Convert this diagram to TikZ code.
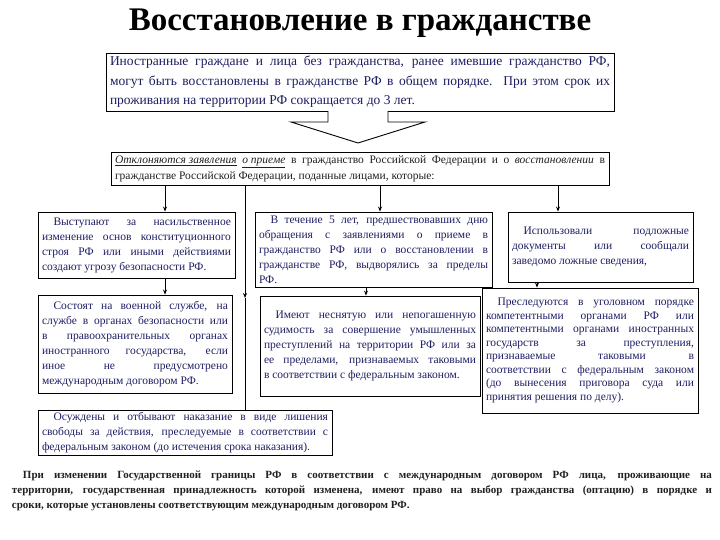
\documentclass[tikz,border=0pt]{standalone}
\usepackage{fontspec}
\setmainfont{Liberation Serif}
\usepackage{tikz}
\usetikzlibrary{arrows.meta, calc, positioning}
\tikzset{>=stealth}
\definecolor{mynavy}{HTML}{1E1E64}
\definecolor{myink}{HTML}{202020}
\hbadness=10000
\hfuzz=2pt

\begin{document}
\begin{tikzpicture}[x=1pt, y=-1pt,
		box/.style={draw, line width=0.9pt, fill=white, inner xsep=4pt, inner ysep=2pt, text=mynavy, align=justify, font=\fontsize{11.5}{15}\selectfont},
		arr/.style={->, line width=0.8pt, >={Stealth[length=5pt, width=4pt]}}]
			\useasboundingbox (0,0) rectangle (720,540);
			\node[font=\bfseries\fontsize{33}{35}\selectfont] (title) at (360,23) {Восстановление в гражданстве};
			% upper boxes
			\node[box, text width=500pt, minimum height=58pt, font=\fontsize{13.5}{19.5}\selectfont] (return) at (360,82) {Иностранные граждане и лица без гражданства, ранее имевшие гражданство РФ, \linebreak могут быть восстановлены в гражданстве РФ в общем порядке. При этом срок их \linebreak проживания на территории РФ сокращается до 3 лет.};
			\draw [line width=0.9pt, fill=white] (328,111) -- (328,122) -- (291,122) -- (358,143) -- (425,122) -- (388,122) -- (388,111);
			\node[box, text width=490pt, minimum height=33pt, text=myink, font=\fontsize{11.5}{16}\selectfont] (reject) at (360,168.5) {\underline{\textit{Отклоняются заявления}} \underline{\textit{о приеме}} в гражданство Российской Федерации и о \textit{восстановлении} в \linebreak гражданстве Российской Федерации, поданные лицами, которые:};
			% left column
			\node[box, text width=189pt, minimum height=66pt] (threat) at (136.5,245) {\hspace*{1em}Выступают за насильственное \linebreak изменение основ конституционного \linebreak строя РФ или иными действиями \linebreak создают угрозу безопасности РФ.};
			\node[box, text width=186pt, minimum height=98pt] (service) at (135,344) {\hspace*{1em}Состоят на военной службе, на \linebreak службе в органах безопасности или \linebreak в правоохранительных органах \linebreak иностранного государства, если \linebreak иное не предусмотрено \linebreak международным договором РФ.};
			\node[box, text width=286pt, minimum height=44pt] (prison) at (185,433) {\hspace*{1em}Осуждены и отбывают наказание в виде лишения \linebreak свободы за действия, преследуемые в соответствии с \linebreak федеральным законом (до истечения срока наказания).};
			% middle column
			\node[box, text width=229pt, minimum height=75pt] (expel) at (373.5,249.5) {\hspace*{1em}В течение 5 лет, предшествовавших дню \linebreak обращения с заявлениями о приеме в \linebreak гражданство РФ или о восстановлении в \linebreak гражданстве РФ, выдворялись за пределы \linebreak РФ.};
			\node[box, text width=212pt, minimum height=100pt] (record) at (370,346) {\hspace*{1em}Имеют неснятую или непогашенную \linebreak судимость за совершение умышленных \linebreak преступлений на территории РФ или за \linebreak ее пределами, признаваемых таковыми \linebreak в соответствии с федеральным законом.};
			% right column
			\node[box, text width=177pt, minimum height=70pt] (forged) at (600.5,247) {\hspace*{1em}Использовали подложные \linebreak документы или сообщали \linebreak заведомо ложные сведения,};
			\node[box, text width=208pt, minimum height=125pt, font=\fontsize{11.5}{13.5}\selectfont] (pursued) at (590,350.5) {\hspace*{1em}Преследуются в уголовном порядке \linebreak компетентными органами РФ или \linebreak компетентными органами иностранных \linebreak государств за преступления, \linebreak признаваемые таковыми в \linebreak соответствии с федеральным законом \linebreak (до вынесения приговора суда или \linebreak принятия решения по делу).};
			% connectors
			\coordinate (midtip) at (245,298);
			\draw [arr] (reject.south -| 165,0) -- (threat.north -| 165,0);
			\draw [arr] (reject.south -| 380,0) -- (expel.north -| 380,0);
			\draw [arr] (reject.south -| 558,0) -- (forged.north -| 558,0);
			\draw [arr] (reject.south -| midtip) -- (midtip);
			\draw [line width=0.8pt] (midtip) -- (prison.north -| midtip);
			\draw [arr] (threat.south -| 165,0) -- (service.north -| 165,0);
			\draw [arr] (expel.south -| 366,0) -- (record.north -| 366,0);
			\draw [arr] (forged.south -| 537,0) -- (pursued.north -| 537,0);
			% bottom text
			\node[text width=700pt, align=justify, text=myink, font=\bfseries\fontsize{11}{15}\selectfont] (option) at (362,491) {\hspace*{1em}При изменении Государственной границы РФ в соответствии с международным договором РФ лица, проживающие на \linebreak территории, государственная принадлежность которой изменена, имеют право на выбор гражданства (оптацию) в порядке и \linebreak сроки, которые установлены соответствующим международным договором РФ.};
		\end{tikzpicture}
\end{document}
